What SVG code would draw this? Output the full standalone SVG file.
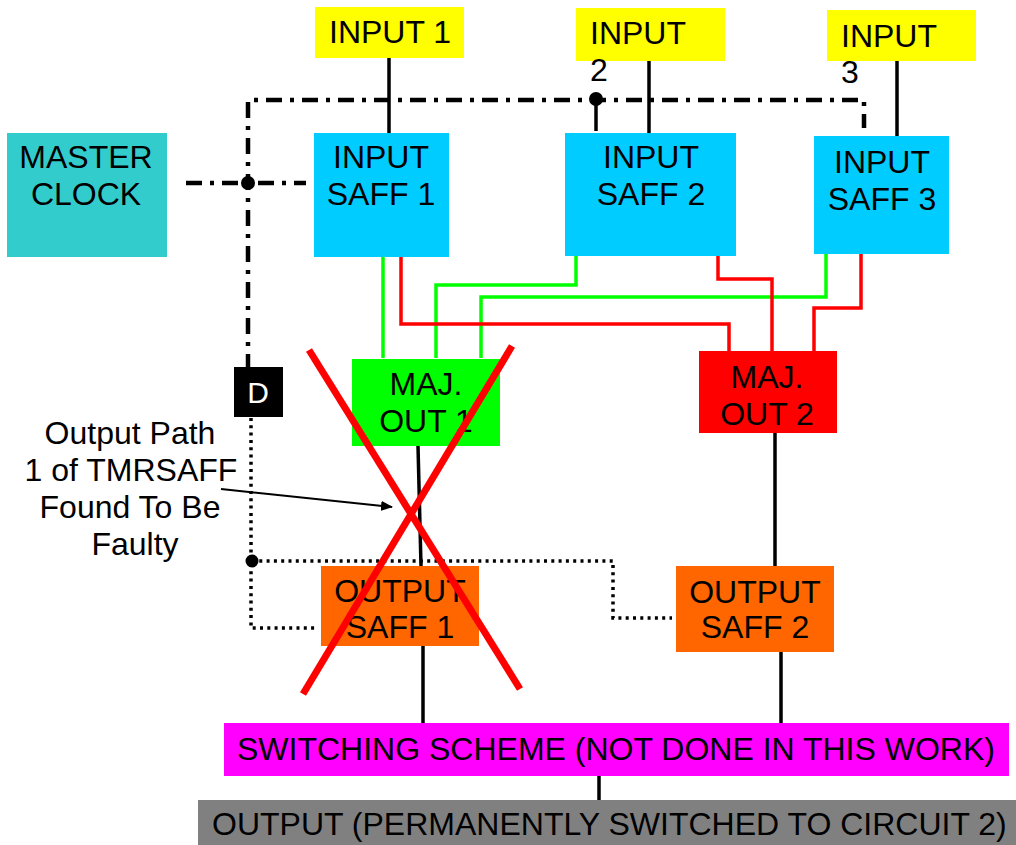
<svg xmlns="http://www.w3.org/2000/svg" width="1016" height="845" viewBox="0 0 1016 845">
<style>
text{font-family:"Liberation Sans",Arial,sans-serif;font-size:32px;fill:#000}
.c{text-anchor:middle}
.blk{stroke:#000;stroke-width:3.5;fill:none}
.dd{stroke:#000;stroke-width:4.5;fill:none;stroke-dasharray:16 8 4 8}
.dot{stroke:#000;stroke-width:3.5;fill:none;stroke-dasharray:3 4.3}
.g{stroke:#00FF00;stroke-width:3.5;fill:none}
.r{stroke:#FF0000;stroke-width:3.5;fill:none}
</style>
<defs>
<marker id="ah" markerWidth="12" markerHeight="10" refX="11" refY="5" orient="auto" markerUnits="userSpaceOnUse">
<path d="M0,0 L12,5 L0,10 z" fill="#000"/>
</marker>
</defs>
<g id="connectors">
<line class="blk" x1="389" y1="57" x2="389" y2="133"/>
<line class="blk" x1="649" y1="60" x2="649" y2="133"/>
<line class="blk" x1="897" y1="60" x2="897" y2="136"/>
<line class="blk" x1="596" y1="99" x2="596" y2="131"/>
<path class="dd" d="M248,370 V100 H864 V128"/>
<line class="dd" x1="186" y1="183" x2="306" y2="183"/>
<circle cx="248" cy="183" r="7" fill="#000"/>
<circle cx="596" cy="99" r="7" fill="#000"/>
<path class="dot" d="M251,418 V628 H318"/>
<path class="dot" d="M252,561 H613 V618 H672"/>
<circle cx="252" cy="561" r="6.5" fill="#000"/>
<polyline class="g" points="383,257 383,358"/>
<polyline class="g" points="576,256 576,285 436,285 436,358"/>
<polyline class="g" points="826,254 826,297 481,297 481,358"/>
<polyline class="r" points="401,257 401,324 729,324 729,351"/>
<polyline class="r" points="718,256 718,279 772,279 772,351"/>
<polyline class="r" points="861,254 861,308 814,308 814,351"/>
<line class="blk" x1="418" y1="446" x2="421" y2="566"/>
<line class="blk" x1="775" y1="433" x2="775" y2="566"/>
<line class="blk" x1="423" y1="646" x2="423" y2="723"/>
<line class="blk" x1="781" y1="652" x2="781" y2="723"/>
<line class="blk" x1="599" y1="776" x2="599" y2="800"/>
<line stroke="#000" stroke-width="2" x1="221" y1="489" x2="392" y2="507" marker-end="url(#ah)"/>
</g>
<g id="input1"><rect x="315" y="7" width="149" height="51" fill="#FFFF00"/><text x="329" y="43">INPUT 1</text></g>
<g id="input2"><rect x="576" y="8" width="149" height="53" fill="#FFFF00"/><text x="590" y="44">INPUT</text><text x="590" y="81">2</text></g>
<g id="input3"><rect x="827" y="10" width="149" height="51" fill="#FFFF00"/><text x="841" y="47">INPUT</text><text x="841" y="83">3</text></g>
<g id="master-clock"><rect x="7" y="133" width="160" height="124" fill="#33CCCC"/><text class="c" x="86" y="168">MASTER</text><text class="c" x="86" y="205">CLOCK</text></g>
<g id="input-saff1"><rect x="314" y="133" width="135" height="124" fill="#00CCFF"/><text class="c" x="381" y="168">INPUT</text><text class="c" x="381" y="205">SAFF 1</text></g>
<g id="input-saff2"><rect x="565" y="133" width="171" height="123" fill="#00CCFF"/><text class="c" x="651" y="168">INPUT</text><text class="c" x="651" y="205">SAFF 2</text></g>
<g id="input-saff3"><rect x="814" y="136" width="135" height="118" fill="#00CCFF"/><text class="c" x="882" y="173">INPUT</text><text class="c" x="882" y="210">SAFF 3</text></g>
<g id="d-box"><rect x="234" y="367" width="49" height="50" fill="#000"/><text class="c" x="258" y="403" style="fill:#fff;font-size:30px">D</text></g>
<g id="maj-out1"><rect x="352" y="359" width="148" height="87" fill="#00FF00"/><text class="c" x="426" y="395">MAJ.</text><text class="c" x="426" y="432">OUT 1</text></g>
<g id="maj-out2"><rect x="699" y="351" width="138" height="82" fill="#FF0000"/><text class="c" x="767" y="388">MAJ.</text><text class="c" x="767" y="425">OUT 2</text></g>
<g id="output-saff1"><rect x="321" y="566" width="158" height="80" fill="#FF6600"/><text class="c" x="400" y="602">OUTPUT</text><text class="c" x="400" y="638">SAFF 1</text></g>
<g id="output-saff2"><rect x="676" y="566" width="158" height="86" fill="#FF6600"/><text class="c" x="755" y="603">OUTPUT</text><text class="c" x="755" y="638">SAFF 2</text></g>
<g id="switching-scheme"><rect x="224" y="723" width="785" height="53" fill="#FF00FF"/><text x="237" y="760">SWITCHING SCHEME (NOT DONE IN THIS WORK)</text></g>
<g id="output"><rect x="198" y="800" width="818" height="45" fill="#808080"/><text x="212" y="835">OUTPUT (PERMANENTLY SWITCHED TO CIRCUIT 2)</text></g>
<g id="annotation"><text class="c" x="130" y="444">Output Path</text><text class="c" x="131" y="481">1 of TMRSAFF</text><text class="c" x="130" y="518">Found To Be</text><text class="c" x="135" y="555">Faulty</text></g>
<g id="fault-mark" stroke="#FF0000" stroke-width="7">
<line x1="309" y1="350" x2="520" y2="689"/>
<line x1="512" y1="346" x2="303" y2="694"/>
</g>
</svg>
